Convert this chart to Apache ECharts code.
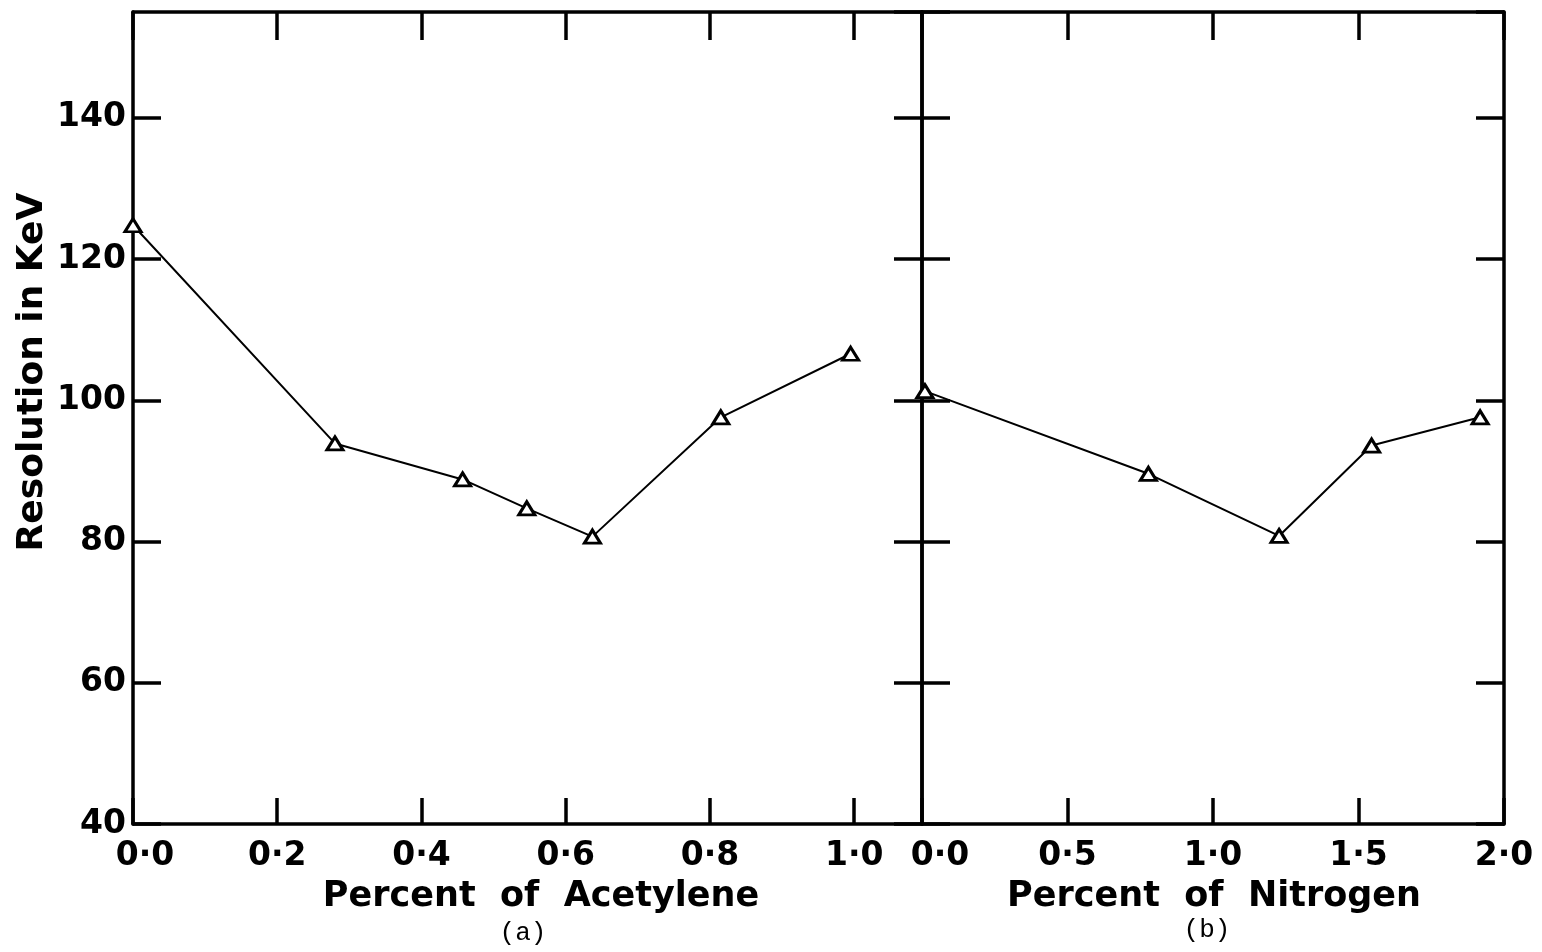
<!DOCTYPE html>
<html>
<head>
<meta charset="utf-8">
<script src="https://cdn.jsdelivr.net/npm/echarts@6/dist/echarts.min.js"></script>
<style>
html,body{margin:0;padding:0;background:#fff;}
#chart{width:1542px;height:952px;}
</style>
</head>
<body>
<div id="chart"></div>
<script>
// ---- data ----
const acetyleneX = [0.0, 0.280, 0.457, 0.546, 0.637, 0.815, 0.995];
const acetyleneY = [124.8, 93.9, 88.8, 84.7, 80.7, 97.6, 106.6];
const nitrogenX = [0.01, 0.778, 1.227, 1.545, 1.918];
const nitrogenY = [101.3, 89.6, 80.8, 93.6, 97.6];

const acetyleneTicks = ['0·0', '0·2', '0·4', '0·6', '0·8', '1·0'];
const nitrogenTicks = ['0·0', '0·5', '1·0', '1·5', '2·0'];
const resolutionTicks = ['40', '60', '80', '100', '120', '140'];

const yTitle = 'Resolution in KeV';
const xTitleA = 'Percent  of  Acetylene';
const xTitleB = 'Percent  of  Nitrogen';
const panelA = '(a)';
const panelB = '(b)';

// ---- styling ----
const FONT = 'DejaVu Sans';
const BLACK = '#000';
const AXW = 3.5;
const lblStyle = {fontFamily: FONT, fontWeight: 'bold', fontSize: 33, color: BLACK};

function xLabel(ticks, step, shift) {
  return {
    show: true,
    margin: 16,
    showMaxLabel: false,
    ...lblStyle,
    formatter: function (v) {
      const i = Math.round(v / step);
      if (Math.abs(v - i * step) > 1e-6 || i >= ticks.length) return '';
      if (i === 0) return '{s|' + ticks[0] + '}';
      return '{n|' + ticks[i] + '}';
    },
    rich: {
      s: {...lblStyle, padding: [0, 0, 0, shift]},
      n: {...lblStyle}
    }
  };
}

function baseAxis(extra) {
  return Object.assign({
    type: 'value',
    axisLine: {show: true, onZero: false, lineStyle: {color: BLACK, width: AXW}},
    axisTick: {show: true, inside: true, length: 28, lineStyle: {color: BLACK, width: AXW}},
    splitLine: {show: false},
    axisLabel: {show: false}
  }, extra);
}

const yMin = 40, yMax = 155, yStep = 20;

const option = {
  backgroundColor: '#fff',
  animation: false,
  grid: [
    {left: 133, top: 12, width: 789, bottom: 128},
    {left: 922, top: 12, width: 582, bottom: 128}
  ],
  xAxis: [
    baseAxis({gridIndex: 0, position: 'bottom', min: 0, max: 1.094, interval: 0.2,
      axisTick: {show: true, inside: true, length: 26, lineStyle: {color: BLACK, width: AXW}},
      axisLabel: xLabel(acetyleneTicks, 0.2, 24)}),
    baseAxis({gridIndex: 0, position: 'top', min: 0, max: 1.094, interval: 0.2}),
    baseAxis({gridIndex: 1, position: 'bottom', min: 0, max: 2.0, interval: 0.5,
      axisTick: {show: true, inside: true, length: 26, lineStyle: {color: BLACK, width: AXW}},
      axisLabel: Object.assign(xLabel(nitrogenTicks, 0.5, 36), {showMaxLabel: true})}),
    baseAxis({gridIndex: 1, position: 'top', min: 0, max: 2.0, interval: 0.5})
  ],
  yAxis: [
    baseAxis({gridIndex: 0, position: 'left', min: yMin, max: yMax, interval: yStep,
      axisLabel: {show: true, margin: 7, showMaxLabel: false, ...lblStyle,
        formatter: function (v) {
          const i = Math.round((v - yMin) / yStep);
          if (Math.abs(v - (yMin + i * yStep)) > 1e-6 || i >= resolutionTicks.length) return '';
          return resolutionTicks[i];
        }}}),
    baseAxis({gridIndex: 0, position: 'right', min: yMin, max: yMax, interval: yStep}),
    baseAxis({gridIndex: 1, position: 'left', min: yMin, max: yMax, interval: yStep}),
    baseAxis({gridIndex: 1, position: 'right', min: yMin, max: yMax, interval: yStep})
  ],
  series: [
    {
      type: 'line', xAxisIndex: 0, yAxisIndex: 0,
      data: acetyleneX.map((x, i) => [x, acetyleneY[i]]),
      lineStyle: {color: BLACK, width: 2},
      symbol: 'triangle', symbolSize: [16, 13],
      itemStyle: {color: '#fff', borderColor: BLACK, borderWidth: 3},
      z: 1
    },
    {
      type: 'line', xAxisIndex: 2, yAxisIndex: 2,
      data: nitrogenX.map((x, i) => [x, nitrogenY[i]]),
      lineStyle: {color: BLACK, width: 2},
      symbol: 'triangle', symbolSize: [16, 13],
      itemStyle: {color: '#fff', borderColor: BLACK, borderWidth: 3},
      z: 1
    }
  ],
  graphic: [
    {type: 'text', x: 33, y: 372, rotation: Math.PI / 2,
      style: {text: yTitle, fontFamily: FONT, fontWeight: 'bold', fontSize: 36, fill: BLACK,
        align: 'center', verticalAlign: 'middle'}},
    {type: 'text', x: 541, y: 897,
      style: {text: xTitleA, fontFamily: FONT, fontWeight: 'bold', fontSize: 35, fill: BLACK,
        align: 'center', verticalAlign: 'middle'}},
    {type: 'text', x: 1214, y: 897,
      style: {text: xTitleB, fontFamily: FONT, fontWeight: 'bold', fontSize: 35, fill: BLACK,
        align: 'center', verticalAlign: 'middle'}},
    {type: 'text', x: 523, y: 933,
      style: {text: panelA, fontFamily: 'Liberation Mono', fontSize: 26, fill: BLACK,
        align: 'center', verticalAlign: 'middle'}},
    {type: 'text', x: 1207, y: 930,
      style: {text: panelB, fontFamily: 'Liberation Mono', fontSize: 26, fill: BLACK,
        align: 'center', verticalAlign: 'middle'}}
  ]
};

const chart = echarts.init(document.getElementById('chart'), null, {renderer: 'canvas'});
chart.setOption(option);
</script>
</body>
</html>
